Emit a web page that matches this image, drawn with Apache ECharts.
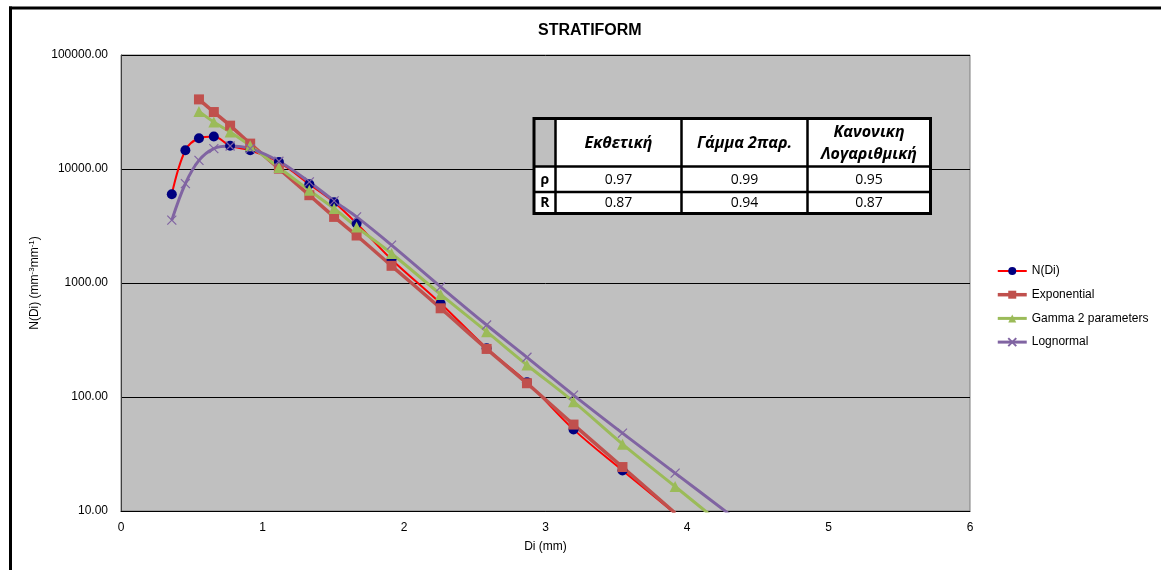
<!DOCTYPE html>
<html>
<head>
<meta charset="utf-8">
<script src="https://cdn.jsdelivr.net/npm/echarts@6/dist/echarts.min.js"></script>
<style>
  html, body { margin: 0; padding: 0; background: #ffffff; }
  #chart { width: 1161px; height: 570px; }
</style>
</head>
<body>
<div id="chart"></div>
<script>
// Drop diameter classes (mm)
const diameters = [0.359, 0.455, 0.551, 0.656, 0.771, 0.913, 1.116, 1.331, 1.506, 1.665,
                   1.912, 2.259, 2.584, 2.869, 3.198, 3.544, 3.916, 4.350];

// Measured number concentration N(Di) (mm^-3 mm^-1)
const observed    = [6000, 14600, 18600, 19300, 16000, 14600, 11500, 7350, 5100, 3330,
                     1610, 662, 268, 135, 52, 22.7, 9.5, null];
// Fitted distributions
const exponential = [null, null, 40800, 31600, 24000, 16700, 10070, 5890, 3800, 2610,
                     1415, 600, 264, 132, 57.3, 24.3, 9.6, null];
const gamma2      = [null, null, 32000, 25800, 21100, 16000, 10300, 6500, 4500, 3100,
                     1815, 794, 374, 191, 91, 38.6, 16.4, 6.0];
const lognormal   = [3560, 7450, 11900, 15100, 15900, 15100, 11700, 7700, 5250, 3800,
                     2150, 926, 428, 223, 104, 48.2, 21.5, 8.4];

const seriesNames = ['N(Di)', 'Exponential', 'Gamma 2 parameters', 'Lognormal'];
const lineWidths = [2, 3.5, 3, 3];

// Goodness-of-fit table
const tableHeaders = ['Εκθετική', 'Γάμμα 2παρ.', 'Κανονικη\nΛογαριθμική'];
const rowLabels = ['ρ', 'R'];
const rhoValues = ['0.97', '0.99', '0.95'];
const rValues   = ['0.87', '0.94', '0.87'];

const yTicks = [10, 100, 1000, 10000, 100000];

function pairs(values) {
  return diameters.map((d, i) => [d, values[i]]);
}

const AX_FONT = 'Liberation Sans, Arial, sans-serif';

// table geometry
const colX = [534, 555.5, 681.5, 807.5, 930.5];
const rowY = [118.5, 166.5, 192, 213.5];
const tableGraphics = [];
// cell backgrounds
tableGraphics.push({ type: 'rect', shape: { x: colX[0], y: rowY[0], width: colX[4] - colX[0], height: rowY[3] - rowY[0] },
  style: { fill: '#ffffff' }, z: 100 });
tableGraphics.push({ type: 'rect', shape: { x: colX[0], y: rowY[0], width: colX[1] - colX[0], height: rowY[1] - rowY[0] },
  style: { fill: '#bfbfbf' }, z: 100 });
// inner lines
for (let c = 1; c < 4; c++) {
  tableGraphics.push({ type: 'line', shape: { x1: colX[c], y1: rowY[0], x2: colX[c], y2: rowY[3] },
    style: { stroke: '#000', lineWidth: 2.5 }, z: 101 });
}
for (let r = 1; r < 3; r++) {
  tableGraphics.push({ type: 'line', shape: { x1: colX[0], y1: rowY[r], x2: colX[4], y2: rowY[r] },
    style: { stroke: '#000', lineWidth: 2.5 }, z: 101 });
}
// outer frame
tableGraphics.push({ type: 'rect', shape: { x: colX[0], y: rowY[0], width: colX[4] - colX[0], height: rowY[3] - rowY[0] },
  style: { fill: 'none', stroke: '#000', lineWidth: 3 }, z: 102 });
// header texts
tableHeaders.forEach((h, i) => {
  tableGraphics.push({ type: 'text', z: 103,
    style: { text: h, x: (colX[i + 1] + colX[i + 2]) / 2, y: (rowY[0] + rowY[1]) / 2 + 1,
      align: 'center', verticalAlign: 'middle', fill: '#000',
      font: 'italic bold 16px "Open Sans", sans-serif', lineHeight: 22 } });
});
// row labels and values
[rhoValues, rValues].forEach((vals, r) => {
  const cy = (rowY[r + 1] + rowY[r + 2]) / 2 + 0.5;
  tableGraphics.push({ type: 'text', z: 103,
    style: { text: rowLabels[r], x: (colX[0] + colX[1]) / 2, y: cy, align: 'center', verticalAlign: 'middle',
      fill: '#000', font: 'bold 14px "Open Sans", sans-serif' } });
  vals.forEach((v, i) => {
    tableGraphics.push({ type: 'text', z: 103,
      style: { text: v, x: (colX[i + 1] + colX[i + 2]) / 2, y: cy, align: 'center', verticalAlign: 'middle',
        fill: '#000', font: '14px "Open Sans", sans-serif' } });
  });
});

const chart = echarts.init(document.getElementById('chart'), null, { renderer: 'canvas' });

chart.setOption({
  animation: false,
  backgroundColor: '#ffffff',
  title: {
    text: 'STRATIFORM',
    left: 533, top: 18,
    textStyle: { fontFamily: AX_FONT, fontSize: 16, fontWeight: 'bold', color: '#000' }
  },
  legend: {
    orient: 'vertical',
    left: 991, top: 260,
    itemWidth: 29, itemHeight: 10, itemGap: 11.7,
    textStyle: { fontFamily: AX_FONT, fontSize: 12, color: '#000' },
    data: seriesNames.map((n, i) => ({ name: n, lineStyle: { width: lineWidths[i] } }))
  },
  grid: {
    left: 121, right: 191, top: 55, bottom: 59,
    show: true, backgroundColor: '#c0c0c0', borderColor: '#7f7f7f', borderWidth: 1
  },
  xAxis: {
    type: 'value', min: 0, max: 6, interval: 1,
    name: 'Di (mm)', nameLocation: 'middle', nameGap: 30,
    nameTextStyle: { fontFamily: AX_FONT, fontSize: 12, color: '#000' },
    axisLine: { show: true, lineStyle: { color: '#000', width: 1 } },
    axisTick: { show: false },
    splitLine: { show: false },
    axisLabel: { fontFamily: AX_FONT, fontSize: 12, color: '#000', margin: 11 }
  },
  yAxis: {
    type: 'log', logBase: 10, min: yTicks[0], max: yTicks[yTicks.length - 1],
    name: '{t|N(Di) (mm}{s|-3}{t|mm}{s|-1}{t|)}',
    nameLocation: 'middle', nameRotate: 90, nameGap: 72,
    nameTextStyle: {
      rich: {
        t: { fontFamily: AX_FONT, fontSize: 12, color: '#000', lineHeight: 14 },
        s: { fontFamily: AX_FONT, fontSize: 8, color: '#000', lineHeight: 8, verticalAlign: 'top' }
      }
    },
    axisLine: { show: true, lineStyle: { color: '#404040', width: 1 } },
    axisTick: { show: false },
    minorTick: { show: false },
    splitLine: { show: true, lineStyle: { color: '#000', width: 1 } },
    axisLabel: {
      fontFamily: AX_FONT, fontSize: 12, color: '#000', margin: 13,
      formatter: v => Number(v).toFixed(2)
    }
  },
  series: [
    {
      name: seriesNames[0], type: 'line', data: pairs(observed),
      smooth: 0.35, connectNulls: false,
      symbol: 'circle', symbolSize: 10,
      lineStyle: { color: '#ff0000', width: lineWidths[0] },
      itemStyle: { color: '#000080', borderColor: '#000080', borderWidth: 0 },
      emphasis: { disabled: true }
    },
    {
      name: seriesNames[1], type: 'line', data: pairs(exponential),
      smooth: 0.35,
      symbol: 'rect', symbolSize: 10,
      lineStyle: { color: '#c0504d', width: lineWidths[1] },
      itemStyle: { color: '#c0504d', borderWidth: 0 },
      emphasis: { disabled: true }
    },
    {
      name: seriesNames[2], type: 'line', data: pairs(gamma2),
      smooth: 0.35,
      symbol: 'triangle', symbolSize: 11,
      lineStyle: { color: '#9bbb59', width: lineWidths[2] },
      itemStyle: { color: '#9bbb59', borderWidth: 0 },
      emphasis: { disabled: true }
    },
    {
      name: seriesNames[3], type: 'line', data: pairs(lognormal),
      smooth: 0.35,
      symbol: 'path://M0,0L10,10M10,0L0,10', symbolSize: 9,
      lineStyle: { color: '#8064a2', width: lineWidths[3] },
      itemStyle: { color: '#8064a2', borderColor: '#8064a2', borderWidth: 1.2 },
      emphasis: { disabled: true }
    }
  ],
  graphic: [
    // chart frame (top and left edges)
    { type: 'line', shape: { x1: 9, y1: 8, x2: 1161, y2: 8 }, style: { stroke: '#000', lineWidth: 3 }, z: 200 },
    { type: 'line', shape: { x1: 10.5, y1: 6.5, x2: 10.5, y2: 570 }, style: { stroke: '#000', lineWidth: 3 }, z: 200 }
  ].concat(tableGraphics)
});
</script>
</body>
</html>
